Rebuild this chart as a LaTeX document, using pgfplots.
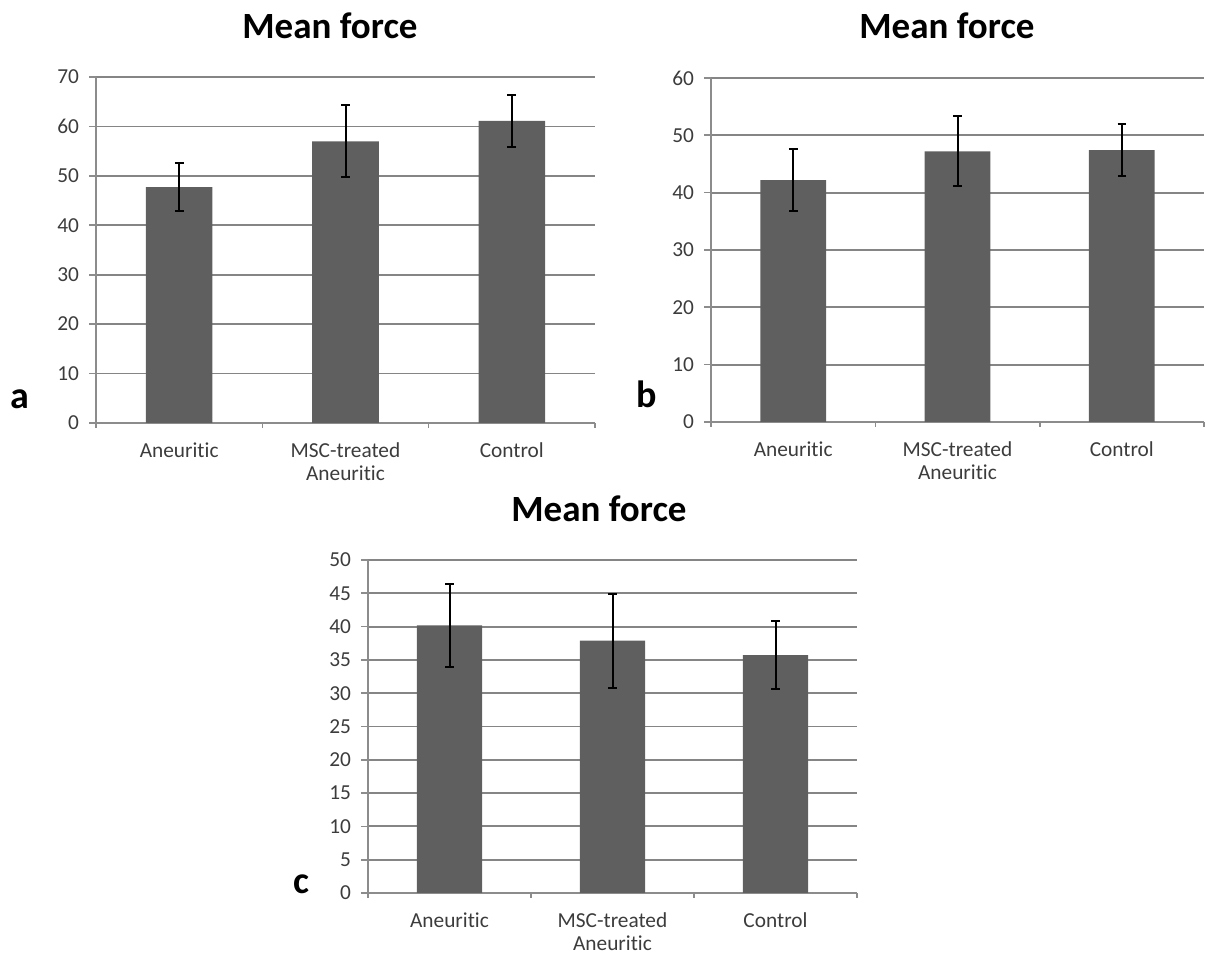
\documentclass[border=0pt]{standalone}
\usepackage{fontspec}
\setmainfont{Carlito}[Ligatures=NoCommon]
\usepackage{pgfplots}
\pgfplotsset{compat=1.18}
\definecolor{barc}{HTML}{5F5F5F}
\definecolor{gridc}{HTML}{858585}
\definecolor{axc}{HTML}{8C8C8C}
\definecolor{labc}{HTML}{3C3C3C}
\pgfplotsset{panel/.style={
  scale only axis, anchor=south west,
  ybar, bar width=0.4,
  xmin=-0.5, xmax=2.5, ymin=0,
  xtick={0,1,2},
  xticklabels={Aneuritic, {MSC-treated\\Aneuritic}, Control},
  minor xtick={-0.5,0.5,1.5,2.5},
  ymajorgrids, grid style={draw=gridc, line width=1.1pt},
  axis x line*=bottom, axis y line*=left,
  axis line style={draw=axc, line width=1.1pt, -},
  tick align=outside, major tick length=4.2pt, minor tick length=3pt,
  major x tick style={draw=none},
  minor x tick style={draw=axc, line width=1pt},
  major y tick style={draw=axc, line width=1pt},
  xtick pos=bottom, ytick pos=left,
  /pgf/number format/assume math mode=true,
  tick label style={font=\fontsize{12.8}{13.6}\selectfont, text=labc},
  xticklabel style={align=center, yshift=-4pt},
  yticklabel style={xshift=-2.5pt},
}}
\pgfplotsset{barplot/.style={fill=barc, draw=none,
  error bars/.cd, y dir=both, y explicit,
  error bar style={black, line width=1.2pt},
  error mark options={black, rotate=90, mark size=2.6pt, line width=1.2pt}}}
\begin{document}
\begin{tikzpicture}
\path (0,0) rectangle (723.6pt,-573pt);
% panel a
\begin{axis}[panel, at={(57.6pt,-253.8pt)}, width=299.4pt, height=207.6pt,
  ymax=70, ytick={0,10,...,70}]
\addplot[barplot] coordinates {
  (0,47.7) +- (0,4.8)
  (1,57.0) +- (0,7.3)
  (2,61.1) +- (0,5.35)
};
\end{axis}
% panel b
\begin{axis}[panel, at={(426.6pt,-253.2pt)}, width=295.8pt, height=206.4pt,
  ymax=60, ytick={0,10,...,60}]
\addplot[barplot] coordinates {
  (0,42.2) +- (0,5.35)
  (1,47.2) +- (0,6.1)
  (2,47.4) +- (0,4.5)
};
\end{axis}
% panel c
\begin{axis}[panel, at={(220.8pt,-535.8pt)}, width=293.4pt, height=199.8pt,
  ymax=50, ytick={0,5,...,50}]
\addplot[barplot] coordinates {
  (0,40.2) +- (0,6.2)
  (1,37.9) +- (0,7.05)
  (2,35.7) +- (0,5.1)
};
\end{axis}
\node[anchor=base, inner sep=0pt, font=\fontsize{22.2}{26}\selectfont\bfseries] at (198pt,-23.4pt) {Mean force};
\node[anchor=base, inner sep=0pt, font=\fontsize{22.2}{26}\selectfont\bfseries] at (568.2pt,-23.4pt) {Mean force};
\node[anchor=base, inner sep=0pt, font=\fontsize{22.2}{26}\selectfont\bfseries] at (359.4pt,-313.2pt) {Mean force};
\node[anchor=base, inner sep=0pt, font=\fontsize{22.8}{26}\selectfont\bfseries] at (12pt,-245.4pt) {a};
\node[anchor=base, inner sep=0pt, font=\fontsize{22.8}{26}\selectfont\bfseries] at (388.2pt,-244.8pt) {b};
\node[anchor=base, inner sep=0pt, font=\fontsize{22.8}{26}\selectfont\bfseries] at (180.6pt,-536.4pt) {c};
\end{tikzpicture}
\end{document}
